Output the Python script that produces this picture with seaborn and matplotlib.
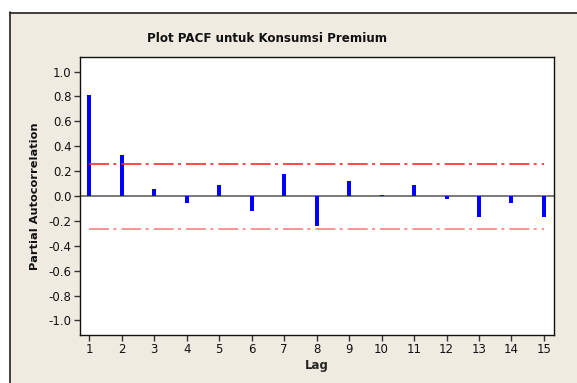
import matplotlib
matplotlib.use("Agg")
import matplotlib.pyplot as plt
import seaborn as sns
import pandas as pd
from matplotlib.patches import Rectangle

lags = list(range(1, 16))
pacf = [0.81, 0.33, 0.055, -0.054, 0.09, -0.12, 0.18, -0.24, 0.12, 0.01, 0.088, -0.024, -0.166, -0.054, -0.166]
upper_limit = 0.257
lower_limit = -0.263
y_ticks = [1.0, 0.8, 0.6, 0.4, 0.2, 0.0, -0.2, -0.4, -0.6, -0.8, -1.0]
title = "Plot PACF untuk Konsumsi Premium"
xlabel = "Lag"
ylabel = "Partial Autocorrelation"

sns.set_style("white")
plt.rcParams['font.family'] = ['DejaVu Sans']

W, H = 577, 383
fig = plt.figure(figsize=(W / 100, H / 100), dpi=100)
fig.patch.set_facecolor("white")

beige = "#EFEBE1"
panel = Rectangle((9 / W, 0), 1 - 9 / W, 1 - 12 / H, transform=fig.transFigure,
                  facecolor=beige, edgecolor="none", zorder=-5)
fig.add_artist(panel)
fig.add_artist(plt.Line2D([9.5 / W, 9.5 / W], [0, 1 - 12 / H], color="#222222", lw=1.2,
                          transform=fig.transFigure, zorder=-4))
fig.add_artist(plt.Line2D([9.5 / W, 1], [1 - 12.5 / H, 1 - 12.5 / H], color="#222222", lw=1.2,
                          transform=fig.transFigure, zorder=-4))

ax = fig.add_axes([80 / W, 1 - 335 / H, (554 - 80) / W, (335 - 57) / H])
ax.set_zorder(2)
ax.set_facecolor("white")

df = pd.DataFrame({"lag": lags, "pacf": pacf})
ax.axhline(0, color="#707070", lw=1.3, zorder=1)
sns.barplot(data=df, x="lag", y="pacf", native_scale=True, width=0.125,
            color="#0000FF", saturation=1, linewidth=0, ax=ax, zorder=2)

dash = (0, (12, 2.6, 1.8, 3.0))
ax.plot([lags[0], lags[-1]], [upper_limit, upper_limit], color="#FF2A2A", lw=1.2, linestyle=dash, zorder=3)
ax.plot([lags[0], lags[-1]], [lower_limit, lower_limit], color="#FF8080", lw=1.2, linestyle=dash, zorder=3)

ax.set_xlim(0.71, 15.31)
ax.set_ylim(-1.117, 1.117)
ax.set_xticks(lags)
ax.set_xticklabels([str(l) for l in lags])
ax.set_yticks(y_ticks)
ax.set_yticklabels([f"{v:.1f}" for v in y_ticks])

for s in ax.spines.values():
    s.set_visible(True)
    s.set_color("#111111")
    s.set_linewidth(1.0)

ax.tick_params(axis="both", which="major", direction="out", length=4, width=1,
               color="#333333", labelsize=8.5, labelcolor="#111111", pad=2,
               bottom=True, left=True)

ax.set_xlabel(xlabel, fontsize=8.5, fontweight="bold", labelpad=2)
ax.set_ylabel("")
fig.text(35 / W, 1 - 196 / H, ylabel, rotation=90, ha="center", va="center",
         fontsize=8.2, fontweight="bold", color="#111111")
fig.text(267 / W, 1 - 39 / H, title, ha="center", va="center", fontsize=8.6,
         fontweight="bold", color="#111111")

fig.savefig("out.png", dpi=100, facecolor=fig.get_facecolor())
